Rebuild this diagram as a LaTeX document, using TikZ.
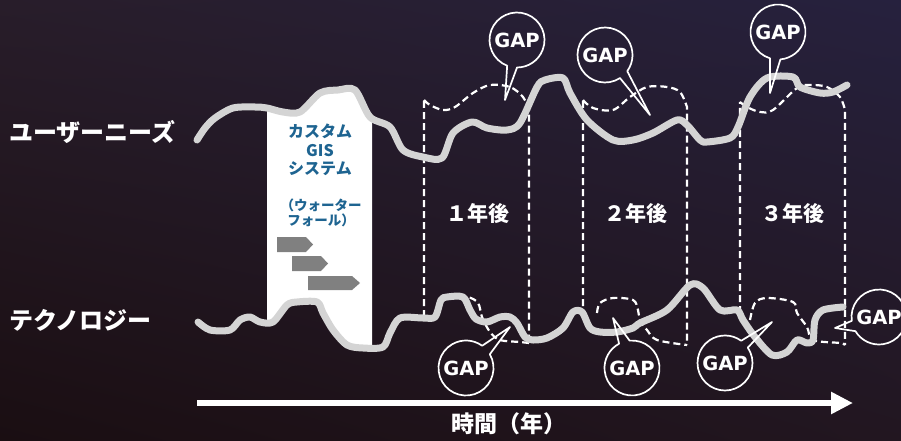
\documentclass[tikz,border=0pt]{standalone}
\usepackage{fontspec}
\setmainfont{DejaVu Sans}
\newfontfamily\jp{Noto Sans CJK JP}
\newfontfamily\gapfont{DejaVu Sans}
\usetikzlibrary{arrows.meta,shadings}
\definecolor{curvegray}{RGB}{212,212,212}
\definecolor{boxblue}{RGB}{30,100,145}
\definecolor{arrgray}{RGB}{128,128,128}
\definecolor{bgUL}{RGB}{40,29,42}
\definecolor{bgUR}{RGB}{38,33,62}
\definecolor{bgLL}{RGB}{26,14,18}
\definecolor{bgLR}{RGB}{34,22,32}
\newcommand\gapb[5]{%
  \node[gaptext] (#1) at (#2) {GAP};
  \coordinate (#1tip) at (#5);
  \draw[bubble] ([shift={(#3:27.5)}]#1.center) arc[start angle=#3, end angle=#4, radius=27.5] -- (#1tip) -- cycle;
}
\begin{document}
\begin{tikzpicture}[x=1pt,y=-1pt,
  bigcurve/.style={draw=curvegray, line width=7pt, line cap=round, line join=round},
  gapline/.style={draw=white, line width=2.2pt, dash pattern=on 7pt off 4pt},
  bubble/.style={draw=white, line width=1.7pt, line join=round},
  gaptext/.style={text=white, font=\gapfont\bfseries\fontsize{19.5}{22}\selectfont, inner sep=0pt},
  sidelabel/.style={text=white, font=\jp\bfseries\fontsize{24}{28}\selectfont, anchor=west, inner sep=0pt},
  yearlabel/.style={text=white, font=\jp\bfseries\fontsize{21}{24}\selectfont, inner sep=0pt},
  boxtext/.style={text=boxblue, font=\jp\bfseries\fontsize{16}{18.5}\selectfont, align=center, inner sep=0pt},
  boxsmall/.style={text=boxblue, font=\jp\bfseries\fontsize{13.5}{15.5}\selectfont, align=center, inner sep=0pt},
  grayarrow/.style={fill=arrgray},
  timearrow/.style={draw=white, line width=6pt, -{Triangle[length=22pt,width=21pt]}}
]
\useasboundingbox (0,0) rectangle (901,441);
\shade[upper left=bgUL, upper right=bgUR, lower left=bgLL, lower right=bgLR] (0,0) rectangle (901,441);

% dashed year boxes
\draw[gapline] (424,317) -- (424,100) plot[smooth, tension=0.55] coordinates {(424,100) (430,105) (443,110) (455,107) (473,93) (490,85) (510,87) (523,97) (529,110)} -- (529,343);
\draw[gapline] plot[smooth, tension=0.55] coordinates {(440,305) (447,298) (467,297) (478,303) (482,317) (490,332) (500,340) (520,342) (529,343)};
\draw[gapline] (583,317) -- (583,100) plot[smooth, tension=0.55] coordinates {(583,100) (593,108) (613,110) (630,97) (647,87) (667,87) (680,92) (687,107)} -- (687,345);
\draw[gapline] plot[smooth, tension=0.55] coordinates {(597,313) (600,303) (613,298) (633,300) (638,310) (640,320) (647,330) (657,340) (687,345)};
\draw[gapline] (740,313) -- (740,102) plot[smooth, tension=0.55] coordinates {(740,102) (747,107) (760,112) (773,110) (797,88) (810,85) (827,87) (840,97) (845,110)} -- (845,345);
\draw[gapline] plot[smooth, tension=0.55] coordinates {(750,320) (755,303) (767,298) (793,302) (797,313) (807,327) (813,340) (840,343) (845,345)};

% white custom GIS box
\fill[white] (267,108) -- (283,112) -- (300,112) -- (320,93) -- (338,90) -- (355,90) -- (370,117) -- (372,119) -- (372,348) -- (363,348) -- (347,345) -- (333,330) -- (323,313) -- (317,302) -- (297,302) -- (287,305) -- (273,322) -- (267,322) -- cycle;
\node[boxtext] (custom) at (320,150) {カスタム\\GIS\\システム};
\node[boxsmall] (water) at (321,213) {（ウォーター\\フォール）};
\fill[grayarrow] (277,237) -- (306,237) -- (313,244.5) -- (306,252) -- (277,252) -- cycle;
\fill[grayarrow] (292,256) -- (321,256) -- (328,263.5) -- (321,271) -- (292,271) -- cycle;
\fill[grayarrow] (308,276) -- (352,276) -- (360,283) -- (352,290) -- (308,290) -- cycle;

% curves
\draw[bigcurve] plot[smooth, tension=0.5] coordinates {(197,140) (205,128) (215,118) (233,108) (255,107) (267,108) (283,112) (300,112) (320,93) (338,90) (355,90) (370,117) (390,127) (403,150) (423,157) (442,158) (453,133) (472,122) (487,128) (507,130) (520,123) (537,87) (545,80) (563,78) (570,93) (587,120) (613,140) (633,140) (653,133) (677,120) (687,125) (700,140) (707,142) (730,138) (738,127) (750,97) (767,78) (793,77) (800,87) (820,93) (833,92) (847,85)};
\draw[bigcurve] plot[smooth, tension=0.5] coordinates {(198,322) (210,330) (230,330) (240,320) (250,317) (260,322) (273,322) (287,305) (297,302) (317,302) (323,313) (333,330) (347,345) (363,348) (383,347) (390,333) (400,318) (423,318) (435,317) (441,300) (447,297) (463,297) (470,310) (476,319) (487,322) (500,317) (510,317) (517,323) (525,337) (533,340) (547,338) (563,328) (573,312) (582,312) (590,328) (600,332) (617,332) (633,328) (640,323) (667,310) (690,285) (703,288) (720,310) (737,310) (743,320) (755,337) (772,355) (787,352) (797,340) (807,343) (813,340) (815,320) (823,310) (843,307)};

% labels
\node[sidelabel] (needs) at (9,132) {ユーザーニーズ};
\node[sidelabel] (tech) at (9,320) {テクノロジー};
\node[yearlabel] (y1) at (478,214) {１年後};
\node[yearlabel] (y2) at (636,214) {２年後};
\node[yearlabel] (y3) at (793,214) {３年後};

% GAP bubbles
\gapb{g1}{517,40}{111}{450}{505,100}
\gapb{g2}{605,55}{57}{396}{650,115}
\gapb{g3}{778,32}{107}{445}{770,93}
\gapb{g4}{466,368}{330}{666}{510,327}
\gapb{g5}{632,368}{265}{602}{613,318}
\gapb{g6}{725,363}{326}{666}{772,322}
\gapb{g7}{879,317}{172}{509}{835,328}

% time axis
\coordinate (ts) at (197,403);
\coordinate (te) at (853,403);
\draw[timearrow] (ts) -- (te);
\node[text=white, font=\jp\bfseries\fontsize{23}{26}\selectfont, inner sep=0pt] (time) at (509,424) {時間（年）};
\end{tikzpicture}
\end{document}
